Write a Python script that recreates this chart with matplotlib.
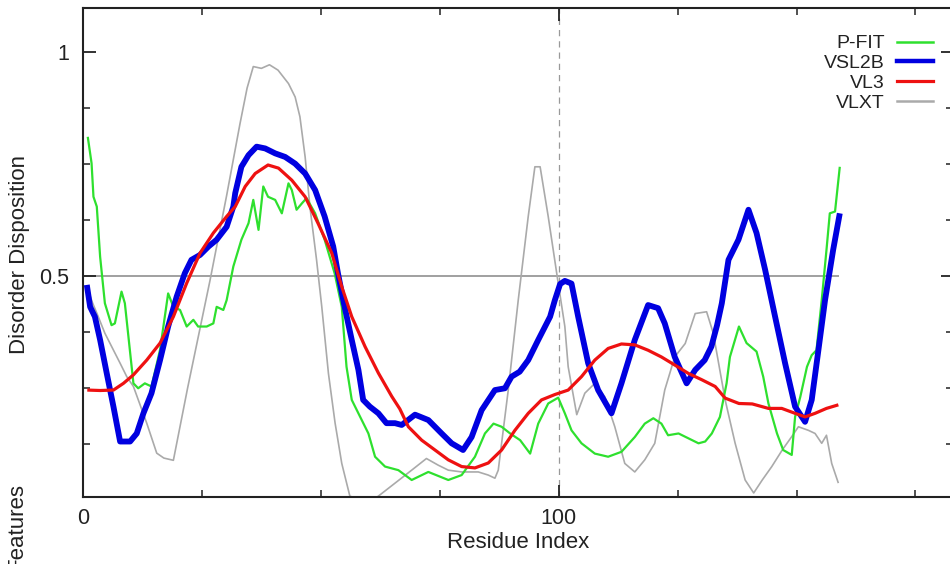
import matplotlib
matplotlib.use("Agg")
import matplotlib.pyplot as plt
from matplotlib.ticker import MultipleLocator, FixedLocator, FixedFormatter
from matplotlib.lines import Line2D

plt.rcParams['font.family'] = ['Liberation Sans', 'DejaVu Sans']

# (residue, score) pairs for each predictor
p_fit = [(1.0, 0.811), (1.8, 0.752), (2.2, 0.677), (2.9, 0.655), (3.6, 0.543), (4.6, 0.439),
         (6.0, 0.390), (6.7, 0.394), (8.1, 0.465), (8.8, 0.439), (10.6, 0.260), (11.6, 0.249),
         (13.0, 0.260), (14.4, 0.253), (16.2, 0.335), (17.9, 0.461), (19.0, 0.431), (20.4, 0.424),
         (21.8, 0.387), (23.2, 0.402), (24.2, 0.387), (26.0, 0.387), (27.4, 0.394), (28.1, 0.431),
         (29.5, 0.424), (30.2, 0.446), (31.6, 0.521), (33.3, 0.581), (34.8, 0.618), (35.8, 0.670),
         (36.9, 0.603), (37.9, 0.700), (38.9, 0.677), (40.4, 0.670), (41.8, 0.640), (43.2, 0.707),
         (43.9, 0.692), (44.9, 0.648), (46.0, 0.662), (47.0, 0.674), (48.8, 0.640), (50.8, 0.581),
         (52.9, 0.506), (54.4, 0.431), (55.4, 0.297), (56.5, 0.223), (58.6, 0.178), (60.0, 0.148),
         (61.4, 0.096), (63.5, 0.074), (66.3, 0.066), (69.1, 0.044), (72.6, 0.062), (76.8, 0.044),
         (79.6, 0.055), (82.4, 0.096), (84.5, 0.148), (86.3, 0.170), (88.0, 0.163), (89.8, 0.148),
         (91.9, 0.133), (94.0, 0.103), (95.7, 0.170), (97.8, 0.215), (99.9, 0.228), (101.3, 0.193),
         (102.7, 0.155), (104.8, 0.126), (107.6, 0.103), (110.4, 0.096), (113.2, 0.107), (116.0, 0.140),
         (118.1, 0.170), (119.9, 0.182), (121.6, 0.170), (123.0, 0.144), (125.2, 0.148), (127.3, 0.137),
         (129.4, 0.126), (130.8, 0.130), (132.2, 0.148), (133.9, 0.185), (135.3, 0.260), (136.0, 0.319),
         (137.9, 0.387), (139.5, 0.350), (141.6, 0.331), (143.0, 0.275), (144.1, 0.215), (145.9, 0.148),
         (147.2, 0.111), (149.0, 0.100), (149.7, 0.185), (150.8, 0.230), (152.2, 0.297), (153.2, 0.323),
         (154.2, 0.334), (155.3, 0.446), (156.3, 0.558), (157.0, 0.640), (158.1, 0.644), (159.1, 0.744)]

vsl2b = [(0.8, 0.480), (1.5, 0.431), (2.5, 0.409), (3.6, 0.357), (5.0, 0.282), (6.4, 0.208),
         (7.8, 0.130), (9.9, 0.130), (11.3, 0.148), (12.7, 0.193), (14.4, 0.238), (16.2, 0.312),
         (17.9, 0.387), (19.7, 0.454), (21.4, 0.506), (22.8, 0.536), (24.6, 0.547), (26.4, 0.566),
         (28.1, 0.581), (30.2, 0.610), (31.6, 0.655), (32.0, 0.685), (33.3, 0.744), (34.8, 0.770),
         (36.5, 0.789), (38.3, 0.785), (40.4, 0.774), (42.5, 0.766), (44.6, 0.751), (46.7, 0.729),
         (48.8, 0.692), (50.8, 0.633), (52.6, 0.566), (53.6, 0.506), (55.0, 0.431), (56.5, 0.357),
         (57.9, 0.290), (58.9, 0.223), (60.3, 0.208), (62.1, 0.193), (63.8, 0.171), (65.6, 0.171),
         (67.0, 0.167), (69.8, 0.190), (72.6, 0.178), (75.4, 0.148), (77.5, 0.126), (79.9, 0.111),
         (81.7, 0.140), (83.8, 0.200), (86.6, 0.245), (88.7, 0.249), (90.1, 0.275), (91.8, 0.286),
         (93.6, 0.312), (95.7, 0.357), (98.2, 0.409), (99.2, 0.446), (100.3, 0.482), (101.3, 0.489),
         (102.7, 0.483), (104.1, 0.409), (106.2, 0.305), (108.3, 0.245), (111.1, 0.193), (113.2, 0.260),
         (116.0, 0.357), (118.8, 0.435), (120.9, 0.428), (122.3, 0.394), (124.4, 0.319), (126.9, 0.260),
         (128.7, 0.290), (130.7, 0.312), (132.1, 0.342), (133.3, 0.390), (134.3, 0.439), (135.7, 0.536),
         (137.8, 0.581), (139.9, 0.648), (141.6, 0.596), (143.4, 0.514), (145.5, 0.409), (147.6, 0.305),
         (149.7, 0.208), (151.8, 0.174), (153.2, 0.223), (154.6, 0.334), (156.0, 0.446), (157.7, 0.558),
         (159.1, 0.640)]

vl3 = [(0.9, 0.245), (3.6, 0.244), (6.4, 0.245), (8.5, 0.260), (10.6, 0.279), (13.4, 0.312),
       (16.2, 0.350), (19.0, 0.409), (21.8, 0.484), (24.6, 0.551), (27.4, 0.596), (30.2, 0.633),
       (32.0, 0.655), (34.1, 0.700), (36.2, 0.729), (38.9, 0.748), (41.1, 0.741), (43.9, 0.714),
       (46.7, 0.677), (49.4, 0.618), (52.3, 0.551), (54.4, 0.476), (56.5, 0.409), (59.3, 0.342),
       (62.1, 0.283), (64.9, 0.231), (66.6, 0.203), (68.4, 0.163), (71.2, 0.133), (74.0, 0.111),
       (76.8, 0.089), (79.6, 0.074), (82.4, 0.071), (85.2, 0.082), (88.0, 0.111), (90.8, 0.155),
       (93.6, 0.193), (96.4, 0.223), (99.2, 0.235), (102.0, 0.245), (104.8, 0.275), (107.6, 0.312),
       (110.4, 0.338), (113.2, 0.348), (116.0, 0.346), (118.8, 0.334), (121.6, 0.319), (124.4, 0.301),
       (127.3, 0.282), (130.1, 0.268), (132.9, 0.253), (135.0, 0.227), (137.9, 0.215), (140.7, 0.214),
       (144.1, 0.204), (146.9, 0.204), (149.7, 0.193), (151.8, 0.185), (153.9, 0.193), (156.3, 0.204),
       (158.8, 0.212)]

vlxt = [(1.0, 0.470), (2.0, 0.440), (2.9, 0.417), (4.6, 0.372), (7.8, 0.305), (9.2, 0.275),
        (10.6, 0.253), (13.4, 0.171), (15.5, 0.104), (17.0, 0.093), (19.0, 0.088), (22.0, 0.250),
        (26.7, 0.490), (30.2, 0.680), (33.0, 0.840), (34.5, 0.920), (35.8, 0.968), (37.5, 0.964),
        (39.2, 0.972), (41.0, 0.960), (43.2, 0.930), (44.6, 0.900), (45.6, 0.856), (46.7, 0.766),
        (47.7, 0.655), (49.1, 0.536), (50.2, 0.431), (51.6, 0.282), (53.0, 0.171), (54.4, 0.081),
        (56.1, 0.008), (58.0, 0.000), (61.0, 0.000), (62.1, 0.008), (65.6, 0.037), (69.1, 0.066),
        (72.2, 0.092), (74.7, 0.077), (76.8, 0.066), (79.6, 0.062), (83.1, 0.062), (85.2, 0.055),
        (86.6, 0.048), (87.3, 0.066), (89.4, 0.245), (91.5, 0.446), (93.6, 0.633), (95.0, 0.744),
        (96.1, 0.744), (97.8, 0.633), (99.9, 0.484), (101.3, 0.387), (102.0, 0.297), (103.8, 0.190),
        (105.5, 0.238), (107.6, 0.260), (109.7, 0.230), (111.8, 0.163), (113.9, 0.081), (116.0, 0.062),
        (118.1, 0.089), (120.2, 0.126), (122.3, 0.245), (124.4, 0.319), (126.6, 0.349), (128.7, 0.416),
        (131.1, 0.420), (132.5, 0.372), (135.0, 0.223), (137.1, 0.126), (139.2, 0.044), (141.0, 0.015),
        (142.8, 0.044), (144.8, 0.074), (147.0, 0.111), (149.0, 0.141), (150.4, 0.163), (152.5, 0.155),
        (153.9, 0.148), (155.3, 0.126), (156.3, 0.144), (157.4, 0.081), (158.8, 0.037)]

series_names = ["P-FIT", "VSL2B", "VL3", "VLXT"]
series_data = [p_fit, vsl2b, vl3, vlxt]
series_colors = ["#2ee02e", "#0000e0", "#ee1111", "#aaaaaa"]
series_widths = [1.6, 4.2, 2.3, 1.2]
series_z = [3, 4, 5, 2]

threshold = 0.5
threshold_span = (0, 159)
marker_residue = 100

x_major = [0, 100]
x_major_labels = ["0", "100"]
y_major = [0.5, 1.0]
y_major_labels = ["0.5", "1"]

fig = plt.figure(figsize=(9.5, 5.64), dpi=100)
ax = fig.add_axes([83 / 950, 67 / 564, 870 / 950, 489.5 / 564])

for name, data, col, lw, z in zip(series_names, series_data, series_colors, series_widths, series_z):
    xs = [p[0] for p in data]
    ys = [p[1] for p in data]
    ax.plot(xs, ys, color=col, lw=lw, zorder=z, solid_joinstyle="round", solid_capstyle="butt")

ax.hlines(threshold, *threshold_span, color="#999999", lw=1.3, zorder=1)
ax.axvline(marker_residue, color="#999999", lw=0.9, ls=(0, (5, 4)), zorder=1)

ax.set_xlim(0, 182.9)
ax.set_ylim(0.006, 1.1)

ax.xaxis.set_major_locator(FixedLocator(x_major))
ax.xaxis.set_major_formatter(FixedFormatter(x_major_labels))
ax.xaxis.set_minor_locator(MultipleLocator(25))
ax.yaxis.set_major_locator(FixedLocator(y_major))
ax.yaxis.set_major_formatter(FixedFormatter(y_major_labels))
ax.yaxis.set_minor_locator(MultipleLocator(0.125))

ax.tick_params(which="both", direction="in", top=True, right=True, color="#222222",
               labelsize=15.5, labelcolor="#222222")
ax.tick_params(which="major", length=9, width=1.3)
ax.tick_params(which="minor", length=5, width=1.1)
ax.tick_params(axis="x", pad=8)
ax.tick_params(axis="y", pad=10)

for sp in ax.spines.values():
    sp.set_linewidth(1.5)
    sp.set_color("#222222")

fig.text(518 / 950, 1 - 543 / 564, "Residue Index", fontsize=16, ha="center", va="center",
         color="#222222")
fig.text(20 / 950, 1 - 254 / 564, "Disorder Disposition", fontsize=16, rotation=90,
         ha="center", va="center", color="#222222")
fig.text(17 / 950, 1 - 527 / 564, "Features", fontsize=16, rotation=90,
         ha="center", va="center", color="#222222")

# key in the upper right corner: labels right-aligned, sample lines to their right
row_px = [41.7, 61, 81, 101]
for name, col, lw, py in zip(series_names, series_colors, series_widths, row_px):
    yb = (497 - (py + 6.5)) / 489.5
    yl = (497 - py) / 489.5
    ax.text((885 - 83) / 870, yb, name, transform=ax.transAxes, ha="right", va="baseline",
            fontsize=14, color="#222222")
    ax.add_line(Line2D([(897 - 83) / 870, (933 - 83) / 870], [yl, yl], transform=ax.transAxes,
                       color=col, lw=min(lw, 3.2) if lw > 2 else 1.8, zorder=6))

fig.savefig("out.png", dpi=100)
